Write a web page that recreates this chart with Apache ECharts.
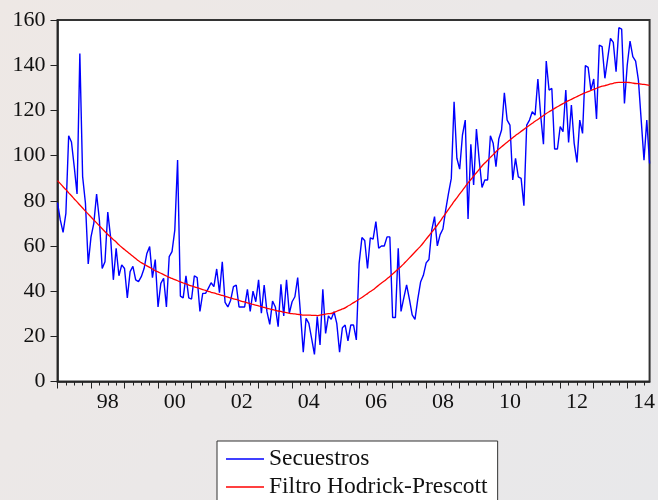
<!DOCTYPE html>
<html>
<head>
<meta charset="utf-8">
<script src="https://cdn.jsdelivr.net/npm/echarts@6/dist/echarts.min.js"></script>
<style>
  html, body { margin: 0; padding: 0; }
  #chart { width: 658px; height: 500px; }
</style>
</head>
<body>
<div id="chart"></div>
<script>
// meses 1997M01 .. 2014M09
const startYear = 1997
const nMonths = 213
const categories = []
for (let i = 0; i < nMonths; i++) {
  const y = startYear + Math.floor(i / 12)
  const m = (i % 12) + 1
  categories.push(y + '-' + (m < 10 ? '0' + m : m))
}

// etiquetas del eje x (centradas en el año)
const yearLabels = ['98', '00', '02', '04', '06', '08', '10', '12', '14']

const secuestros = [
  79.2, 71.5, 66, 74.4, 108.8, 106, 95, 83, 145.2, 90.7, 79, 52,
  64, 70, 83, 71.5, 50, 53, 75, 64, 45, 59, 46.8, 51.6,
  50, 37, 48.6, 51, 45, 44.2, 46.4, 50, 56.7, 59.7, 46, 54,
  33, 43.4, 45.7, 33, 55.3, 57.5, 67, 98, 37.8, 37, 46.8, 37,
  36.5, 46.8, 46, 31, 39, 39, 41.2, 43.7, 42, 49.8, 39.3, 53,
  35, 33, 36, 42, 42.7, 33, 33, 33, 40.8, 31, 40, 35.3,
  45, 30.2, 42.7, 30.9, 25.3, 35.6, 33, 24.3, 43, 29, 45, 30.2,
  35.3, 37.5, 46, 30.2, 13, 28, 25.7, 19, 12, 28.7, 16.2, 40.8,
  21.3, 29, 27.5, 30.9, 25.7, 13, 23.8, 25, 18, 25, 25, 18.4,
  52.3, 63.7, 62.4, 50, 63.6, 63, 70.8, 59, 60, 60, 64, 64,
  28.3, 28.3, 59, 31, 37, 42.8, 36.5, 29.5, 27.5, 36.5, 44, 47,
  52.5, 54, 67, 73, 60, 65, 67.5, 76, 83.3, 89.9, 123.8, 98.8,
  94, 109.1, 115.7, 71.9, 105, 87, 111.7, 98, 85.9, 89.2, 89.2, 108.8,
  105.4, 95.1, 107.3, 111.3, 127.8, 115.7, 113.5, 89.2, 98.8, 90.6, 89.9, 77.8,
  113.5, 115.7, 119.4, 117.9, 133.9, 117.9, 105, 141.8, 129, 129.7, 102.9, 102.9,
  112.8, 110.6, 129, 105.8, 122.4, 105.4, 97, 115.7, 109.8, 139.8, 139, 129,
  133.9, 116.2, 148.9, 148.2, 134.2, 143, 151.9, 150.1, 137.1, 156.6, 156, 123.1,
  140.1, 150.7, 143.8, 141.8, 133.4, 115.7, 98, 115.7, 96.5
]

const filtroHP = [
  88.9, 87.6, 86.2, 84.9, 83.5, 82.2, 80.8, 79.5, 78.1, 76.8, 75.4, 74.1,
  72.8, 71.5, 70.2, 68.9, 67.6, 66.3, 65.1, 64.0, 62.8, 61.7, 60.5, 59.4,
  58.4, 57.4, 56.4, 55.4, 54.4, 53.4, 52.6, 51.9, 51.2, 50.5, 49.8, 49.0,
  48.5, 47.9, 47.3, 46.7, 46.1, 45.6, 45.1, 44.6, 44.1, 43.6, 43.2, 42.7,
  42.3, 41.9, 41.5, 41.1, 40.7, 40.3, 39.9, 39.5, 39.2, 38.8, 38.4, 38.1,
  37.7, 37.3, 37.0, 36.6, 36.3, 35.9, 35.5, 35.2, 34.8, 34.5, 34.1, 33.8,
  33.5, 33.1, 32.8, 32.4, 32.1, 31.8, 31.5, 31.2, 31.0, 30.7, 30.5, 30.2,
  30.0, 29.9, 29.7, 29.6, 29.4, 29.4, 29.4, 29.3, 29.3, 29.2, 29.4, 29.6,
  29.8, 30.0, 30.1, 30.6, 31.1, 31.6, 32.1, 32.6, 33.4, 34.1, 34.9, 35.6,
  36.4, 37.2, 38.1, 38.9, 39.8, 40.6, 41.6, 42.6, 43.6, 44.5, 45.5, 46.5,
  47.6, 48.7, 49.8, 50.9, 52.1, 53.4, 54.7, 56.0, 57.3, 58.6, 59.9, 61.4,
  63.0, 64.5, 66.1, 67.6, 69.2, 70.9, 72.7, 74.4, 76.2, 77.9, 79.7, 81.3,
  83.0, 84.6, 86.3, 87.9, 89.4, 90.9, 92.4, 93.9, 95.4, 96.7, 97.9, 99.2,
  100.4, 101.7, 102.9, 103.9, 104.9, 105.9, 106.9, 107.9, 108.9, 109.8, 110.7, 111.6,
  112.5, 113.4, 114.3, 115.2, 116.0, 116.9, 117.7, 118.6, 119.4, 120.1, 120.9, 121.6,
  122.3, 123.0, 123.7, 124.3, 124.9, 125.5, 126.1, 126.7, 127.3, 127.8, 128.3, 128.8,
  129.3, 129.8, 130.3, 130.7, 131.0, 131.3, 131.7, 132.0, 132.3, 132.4, 132.4, 132.4,
  132.4, 132.3, 132.1, 131.9, 131.8, 131.6, 131.5, 131.3, 131.1
]

const fontFam = '"Liberation Serif", "DejaVu Serif", serif'

const chart = echarts.init(document.getElementById('chart'))

const option = {
  animation: false,
  backgroundColor: {
    type: 'linear', x: 0, y: 0, x2: 1, y2: 1,
    colorStops: [
      { offset: 0, color: '#eee8e5' },
      { offset: 0.5, color: '#ebe8e8' },
      { offset: 1, color: '#e8e8ea' },
    ],
  },
  grid: {
    left: 57.5,
    right: 2.5,
    top: 20,
    bottom: 118.5,
    show: true,
    backgroundColor: '#ffffff',
    borderColor: '#333',
    borderWidth: 2,
  },
  legend: {
    orient: 'vertical',
    left: 217,
    top: 441,
    height: 120,
    backgroundColor: '#ffffff',
    borderColor: '#333',
    borderWidth: 1,
    padding: [6, 10, 20, 9],
    icon: 'rect',
    itemWidth: 38,
    itemHeight: 1.3,
    itemGap: 4,
    itemTextGap: 6,
    textStyle: {
      fontFamily: fontFam,
      fontSize: 23.5,
      lineHeight: 23,
      color: '#111',
    },
    data: ['Secuestros', 'Filtro Hodrick-Prescott'],
  },
  xAxis: [
    {
      type: 'category',
      data: categories,
      boundaryGap: false,
      position: 'bottom',
      axisLine: { show: true, lineStyle: { color: '#222', width: 1.5 } },
      axisTick: {
        show: true,
        length: 4,
        interval: (idx) => idx % 3 === 0,
        lineStyle: { color: '#222', width: 1 },
      },
      axisLabel: {
        interval: (idx) => idx % 24 === 18,
        margin: 10,
        fontFamily: fontFam,
        fontSize: 22,
        color: '#111',
        formatter: (val, idx) => yearLabels[(idx - 18) / 24],
      },
      splitLine: { show: false },
    },
    {
      type: 'category',
      data: categories,
      boundaryGap: false,
      position: 'bottom',
      axisLine: { show: false },
      axisTick: {
        show: true,
        length: 7,
        interval: (idx) => idx % 12 === 0,
        lineStyle: { color: '#222', width: 1 },
      },
      axisLabel: { show: false },
      splitLine: { show: false },
    },
  ],
  yAxis: {
    type: 'value',
    min: 0,
    max: 160,
    interval: 20,
    axisLine: { show: true, lineStyle: { color: '#222', width: 1.5 } },
    axisTick: { show: true, length: 7, lineStyle: { color: '#222', width: 1 } },
    axisLabel: {
      margin: 12,
      fontFamily: fontFam,
      fontSize: 22,
      color: '#111',
    },
    splitLine: { show: false },
  },
  series: [
    {
      name: 'Secuestros',
      type: 'line',
      data: secuestros,
      symbol: 'none',
      lineStyle: { color: '#0000ff', width: 1.4 },
      itemStyle: { color: '#0000ff' },
    },
    {
      name: 'Filtro Hodrick-Prescott',
      type: 'line',
      data: filtroHP,
      symbol: 'none',
      smooth: true,
      lineStyle: { color: '#ff0000', width: 1.3 },
      itemStyle: { color: '#ff0000' },
    },
  ],
}

option && chart.setOption(option)
</script>
</body>
</html>
